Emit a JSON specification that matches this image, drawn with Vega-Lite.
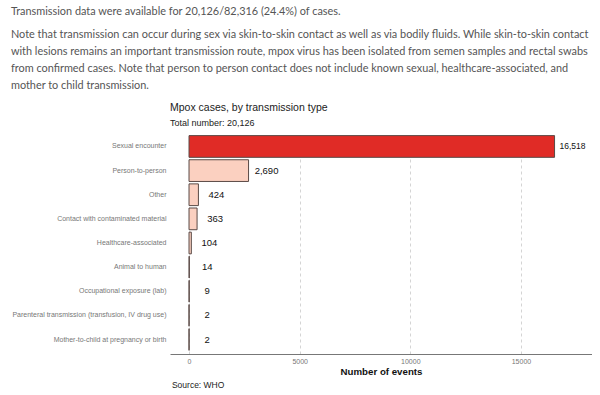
{
  "$schema": "https://vega.github.io/schema/vega-lite/v6.json",
  "padding": {"left": 10, "top": 5, "right": 0, "bottom": 0},
  "background": "white",
  "config": {
    "view": {"stroke": null},
    "concat": {"spacing": 0},
    "font": "Liberation Sans"
  },
  "title": {
    "text": "Transmission data were available for 20,126/82,316 (24.4%) of cases.",
    "subtitle": [
      "Note that transmission can occur during sex via skin-to-skin contact as well as via bodily fluids. While skin-to-skin contact",
      "with lesions remains an important transmission route, mpox virus has been isolated from semen samples and rectal swabs",
      "from confirmed cases. Note that person to person contact does not include known sexual, healthcare-associated, and",
      "mother to child transmission."
    ],
    "anchor": "start",
    "frame": "bounds",
    "dx": -1,
    "font": "Lato",
    "fontSize": 10.9,
    "fontWeight": "normal",
    "color": "#555555",
    "subtitleFont": "Lato",
    "subtitleFontSize": 10.9,
    "subtitleColor": "#555555",
    "subtitleLineHeight": 17,
    "subtitlePadding": 12,
    "offset": 12
  },
  "vconcat": [
    {
      "title": {
        "text": "Source: WHO",
        "orient": "bottom",
        "anchor": "start",
        "dx": 160,
        "font": "Liberation Sans",
        "fontSize": 8.5,
        "fontWeight": "normal",
        "color": "#222222",
        "offset": 5
      },
      "vconcat": [
        {
          "title": {
            "text": "Mpox cases, by transmission type",
            "subtitle": "Total number: 20,126",
            "anchor": "start",
            "frame": "group",
            "font": "Liberation Sans",
            "fontSize": 10.5,
            "fontWeight": "normal",
            "color": "#222222",
            "subtitleFont": "Liberation Sans",
            "subtitleFontSize": 9,
            "subtitleColor": "#222222",
            "subtitlePadding": 6,
            "offset": 4
          },
          "width": 422,
          "height": 222,
          "data": {
            "values": [
              {"type": "Sexual encounter", "count": 16518},
              {"type": "Person-to-person", "count": 2690},
              {"type": "Other", "count": 424},
              {"type": "Contact with contaminated material", "count": 363},
              {"type": "Healthcare-associated", "count": 104},
              {"type": "Animal to human", "count": 14},
              {"type": "Occupational exposure (lab)", "count": 9},
              {"type": "Parenteral transmission (transfusion, IV drug use)", "count": 2},
              {"type": "Mother-to-child at pregnancy or birth", "count": 2}
            ]
          },
          "encoding": {
            "y": {
              "field": "type",
              "type": "nominal",
              "sort": null,
              "scale": {"paddingInner": 0.1, "paddingOuter": 0.15},
              "axis": {
                "title": null,
                "labelFontSize": 7,
                "labelColor": "#777777",
                "labelFont": "Liberation Sans",
                "ticks": false,
                "domain": false,
                "labelPadding": 4
              }
            },
            "x": {
              "field": "count",
              "type": "quantitative",
              "scale": {"domain": [-860, 18210], "nice": false},
              "axis": {
                "values": [0, 5000, 10000, 15000],
                "format": "d",
                "title": "Number of events",
                "titleFontSize": 9.7,
                "titleFontWeight": "bold",
                "titleColor": "#111111",
                "titleFont": "Liberation Sans",
                "titlePadding": 2,
                "labelFontSize": 7,
                "labelColor": "#777777",
                "labelFont": "Liberation Sans",
                "labelPadding": 3,
                "ticks": false,
                "domainColor": "#777777",
                "grid": true,
                "gridDash": [3, 3],
                "gridColor": "#d4d4d4"
              }
            }
          },
          "layer": [
            {
              "mark": {"type": "bar", "stroke": "#5a4a46", "strokeWidth": 1},
              "encoding": {
                "fill": {
                  "condition": {"test": "datum.type === 'Sexual encounter'", "value": "#e02b26"},
                  "value": "#fbd0c0"
                }
              }
            },
            {
              "mark": {"type": "text", "align": "center", "dx": 18, "font": "Liberation Sans", "color": "#111111"},
              "encoding": {
                "text": {"field": "count", "type": "quantitative", "format": ","},
                "size": {
                  "condition": {"test": "datum.count > 10000", "value": 8.5},
                  "value": 9.5
                }
              }
            }
          ]
        }
      ]
    }
  ]
}
